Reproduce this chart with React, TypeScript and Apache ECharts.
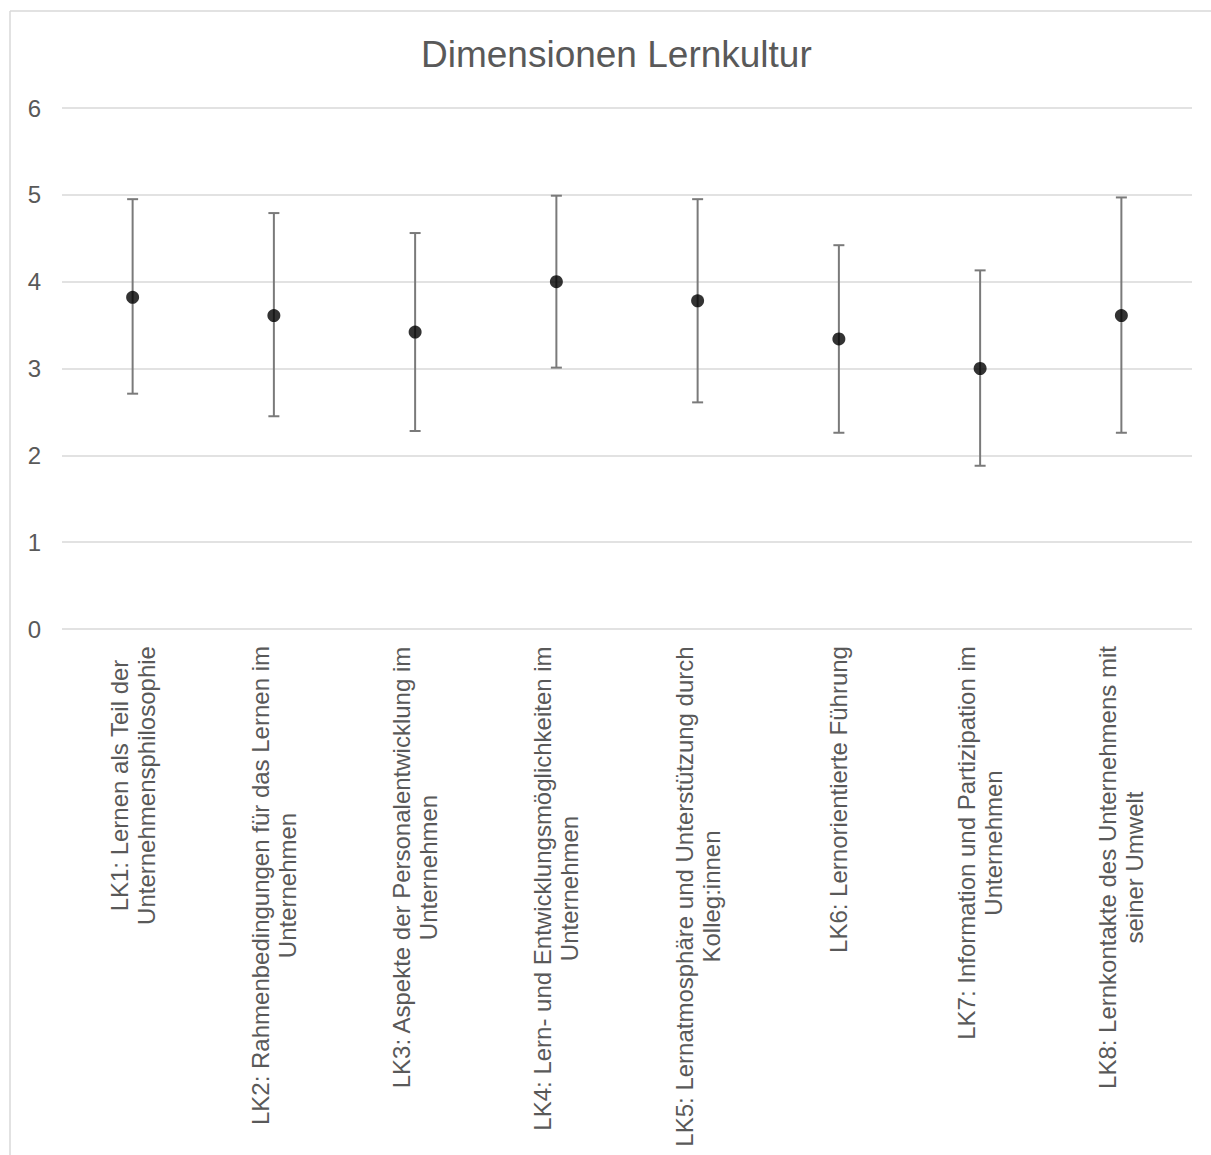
import React, { useEffect, useRef } from "react";
import * as echarts from "echarts";

const titleText = "Dimensionen Lernkultur";
const categoryLines: string[][] = [
  ["LK1: Lernen als Teil der", "Unternehmensphilosophie"],
  ["LK2: Rahmenbedingungen für das Lernen im", "Unternehmen"],
  ["LK3: Aspekte der Personalentwicklung im", "Unternehmen"],
  ["LK4: Lern- und Entwicklungsmöglichkeiten im", "Unternehmen"],
  ["LK5: Lernatmosphäre und Unterstützung durch", "Kolleg:innen"],
  ["LK6: Lernorientierte Führung"],
  ["LK7: Information und Partizipation im", "Unternehmen"],
  ["LK8: Lernkontakte des Unternehmens mit", "seiner Umwelt"],
];
const categories = categoryLines.map((l) => l.join(" "));
const means = [3.82, 3.61, 3.42, 4.0, 3.78, 3.34, 3.0, 3.61];
const upperBounds = [4.95, 4.79, 4.56, 4.99, 4.95, 4.42, 4.13, 4.97];
const lowerBounds = [2.71, 2.45, 2.28, 3.01, 2.61, 2.26, 1.88, 2.26];
const yMin = 0;
const yMax = 6;
const yInterval = 1;

const FONT = "'Liberation Sans', Arial, Helvetica, sans-serif";
const TEXT_COLOR = "#595959";
const LABEL_SIZE = 24;

function measure(text: string, size: number): number {
  const c = document.createElement("canvas");
  const ctx = c.getContext("2d");
  if (!ctx) return text.length * size * 0.5;
  ctx.font = `${size}px ${FONT}`;
  return ctx.measureText(text).width;
}

export default function App() {
  const ref = useRef<HTMLDivElement>(null);
  useEffect(() => {
    if (!ref.current) return;
    const chart = echarts.init(ref.current, undefined, { renderer: "svg" });

    const rich: Record<string, any> = {};
    categoryLines.forEach((lines, i) => {
      const w = Math.ceil(Math.max(...lines.map((l) => measure(l, LABEL_SIZE)))) + 2;
      rich["c" + i] = {
        width: w,
        align: "center",
        fontSize: LABEL_SIZE,
        lineHeight: 27,
        fontFamily: FONT,
        color: TEXT_COLOR,
      };
    });

    const errorData = categories.map((_, i) => [i, lowerBounds[i], upperBounds[i]]);

    chart.setOption({
      animation: false,
      backgroundColor: "#ffffff",
      title: {
        text: titleText,
        left: 416,
        top: 31,
        textStyle: {
          fontFamily: FONT,
          fontSize: 37,
          fontWeight: "normal",
          color: TEXT_COLOR,
        },
      },
      graphic: [
        {
          type: "line",
          shape: { x1: 10, y1: 11, x2: 1211, y2: 11 },
          style: { stroke: "#d9d9d9", lineWidth: 1.5 },
          silent: true,
        },
        {
          type: "line",
          shape: { x1: 10, y1: 11, x2: 10, y2: 1155 },
          style: { stroke: "#d9d9d9", lineWidth: 1.5 },
          silent: true,
        },
      ],
      grid: { left: 62, right: 19, top: 108, bottom: 526, containLabel: false },
      xAxis: {
        type: "category",
        data: categories,
        boundaryGap: true,
        axisLine: { show: false },
        axisTick: { show: false },
        splitLine: { show: false },
        axisLabel: {
          interval: 0,
          rotate: 90,
          margin: 16,
          rich,
          formatter: (_v: string, idx: number) =>
            categoryLines[idx].map((l) => `{c${idx}|${l}}`).join("\n"),
        },
      },
      yAxis: {
        type: "value",
        min: yMin,
        max: yMax,
        interval: yInterval,
        axisLine: { show: false },
        axisTick: { show: false },
        axisLabel: {
          margin: 21,
          fontSize: 24,
          fontFamily: FONT,
          color: TEXT_COLOR,
        },
        splitLine: { show: true, lineStyle: { color: "#d9d9d9", width: 1.5 } },
      },
      series: [
        {
          type: "custom",
          name: "Streuung",
          data: errorData,
          encode: { x: 0, y: [1, 2] },
          z: 2,
          renderItem: (_params: any, api: any) => {
            const x = api.value(0);
            const lo = api.coord([x, api.value(1)]);
            const hi = api.coord([x, api.value(2)]);
            const cap = 5.5;
            const style = { stroke: "#7a7a7a", lineWidth: 2 };
            return {
              type: "group",
              children: [
                { type: "line", shape: { x1: hi[0], y1: hi[1], x2: lo[0], y2: lo[1] }, style },
                { type: "line", shape: { x1: hi[0] - cap, y1: hi[1], x2: hi[0] + cap, y2: hi[1] }, style },
                { type: "line", shape: { x1: lo[0] - cap, y1: lo[1], x2: lo[0] + cap, y2: lo[1] }, style },
              ],
            };
          },
        },
        {
          type: "scatter",
          name: "Mittelwert",
          data: means,
          symbol: "circle",
          symbolSize: 13,
          z: 3,
          itemStyle: { color: "#000000" },
        },
      ],
    });
    return () => chart.dispose();
  }, []);
  return (
    <div
      ref={ref}
      style={{ position: "absolute", left: 0, top: 0, width: 1211, height: 1155 }}
    />
  );
}
